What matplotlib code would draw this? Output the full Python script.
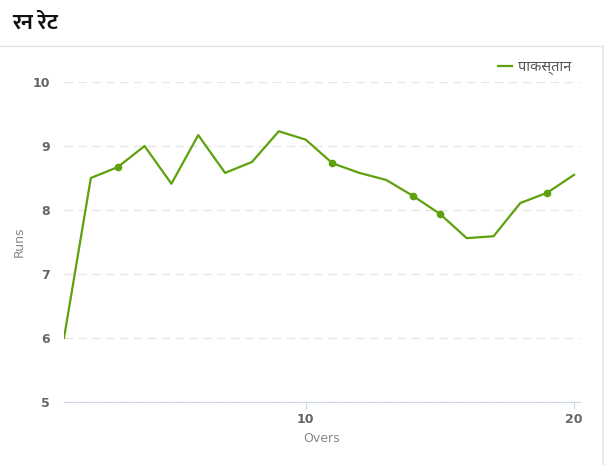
import matplotlib
matplotlib.use("Agg")
import matplotlib.pyplot as plt
from matplotlib.lines import Line2D

overs = list(range(1, 21))
run_rate = [6.0, 8.5, 8.67, 9.0, 8.41, 9.17, 8.58, 8.75, 9.23, 9.1,
            8.73, 8.58, 8.47, 8.22, 7.94, 7.56, 7.59, 8.11, 8.27, 8.55]
wicket_overs = [3, 11, 14, 15, 19]
team = "पाकस्तान"
title = "रन रेट"

green = "#5ea10d"
deva = ["Noto Sans Devanagari", "DejaVu Sans"]

fig = plt.figure(figsize=(6.06, 4.65), dpi=100)
ax = fig.add_axes([64 / 606, 63 / 465, 516 / 606, 320 / 465])

ax.plot(overs, run_rate, color=green, lw=1.6, zorder=3)
wk_y = [run_rate[overs.index(o)] for o in wicket_overs]
ax.plot(wicket_overs, wk_y, "o", color=green, ms=4.5, zorder=4)

ax.set_xlim(1, 20.22)
ax.set_ylim(5, 10)
ax.set_xticks([10, 20])
ax.set_yticks([5, 6, 7, 8, 9, 10])
ax.yaxis.grid(True, color="#e6e6e6", lw=1, linestyle=(0, (6, 4)))
ax.set_axisbelow(True)
for s in ["top", "right", "left"]:
    ax.spines[s].set_visible(False)
ax.spines["bottom"].set_color("#ccd6eb")
ax.tick_params(axis="y", length=0, pad=10, labelsize=9, labelcolor="#666666")
ax.tick_params(axis="x", length=5, color="#ccd6eb", pad=3, labelsize=9, labelcolor="#666666")
for lab in ax.get_xticklabels() + ax.get_yticklabels():
    lab.set_fontweight("bold")

ax.set_xlabel("Overs", color="#888888", fontsize=9, labelpad=4)
ax.set_ylabel("Runs", color="#888888", fontsize=9)
ax.yaxis.set_label_coords(-38 / 516, 0.5)

handle = Line2D([], [], color=green, lw=1.6)
leg = ax.legend([handle], [team], loc="upper right", bbox_to_anchor=(1.0, 1.097),
                frameon=False, handlelength=1.0, handletextpad=0.4,
                borderaxespad=0.2, prop={"family": deva, "size": 10.5})
for t in leg.get_texts():
    t.set_color("#555555")

fig.text(12 / 606, 1 - 23 / 465, title, family=["Ek Mukta", "DejaVu Sans"],
         fontweight="bold", fontsize=15.5, va="center", ha="left", color="#111111")
fig.add_artist(Line2D([0, 600 / 606], [1 - 46 / 465, 1 - 46 / 465],
                      transform=fig.transFigure, color="#e3e3e3", lw=1))
fig.add_artist(Line2D([603 / 606, 603 / 606], [0, 1 - 46 / 465],
                      transform=fig.transFigure, color="#e8e8e8", lw=1.5))

fig.savefig("out.png")
